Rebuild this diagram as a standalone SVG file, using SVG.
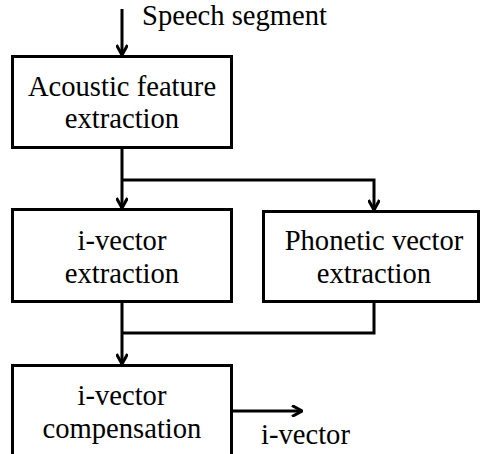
<svg xmlns="http://www.w3.org/2000/svg" width="481" height="454" viewBox="0 0 481 454">
<style>
.box{fill:#fff;stroke:#000;stroke-width:3}
.t{font-family:'Liberation Serif','Times New Roman',Times,serif;font-size:28.6px;fill:#000}
.c{text-anchor:middle}
.ln{fill:none;stroke:#000;stroke-width:3}
</style>
<defs>
<marker id="ah" viewBox="0 0 12 12" refX="11" refY="6" markerWidth="12" markerHeight="12" markerUnits="userSpaceOnUse" orient="auto">
<path d="M1,0.5 L11,6 L1,11.5" fill="none" stroke="#000" stroke-width="3"/>
</marker>
</defs>
<g id="connectors">
<path class="ln" d="M122,9 V55" marker-end="url(#ah)"/>
<path class="ln" d="M122,148 V208" marker-end="url(#ah)"/>
<path class="ln" d="M122,180 H374 V210" marker-end="url(#ah)"/>
<path class="ln" d="M122,302 V364" marker-end="url(#ah)"/>
<path class="ln" d="M374,302 V333 H122"/>
<path class="ln" d="M231,411 H302" marker-end="url(#ah)"/>
</g>
<g id="input-label"><text class="t" x="142" y="25">Speech segment</text></g>
<g id="acoustic">
<rect class="box" x="12.5" y="56.5" width="219" height="91"/>
<text class="t c" x="122" y="96">Acoustic feature</text>
<text class="t c" x="122" y="128">extraction</text>
</g>
<g id="ivector-extraction">
<rect class="box" x="12.5" y="209.5" width="219" height="92"/>
<text class="t c" x="122" y="250">i-vector</text>
<text class="t c" x="122" y="283">extraction</text>
</g>
<g id="phonetic">
<rect class="box" x="263.5" y="211.5" width="215" height="90"/>
<text class="t c" x="374" y="250">Phonetic vector</text>
<text class="t c" x="374" y="283">extraction</text>
</g>
<g id="compensation">
<rect class="box" x="12.5" y="365.5" width="219" height="100"/>
<text class="t c" x="122" y="405">i-vector</text>
<text class="t c" x="122" y="438">compensation</text>
</g>
<g id="output-label"><text class="t" x="261" y="444">i-vector</text></g>
</svg>
